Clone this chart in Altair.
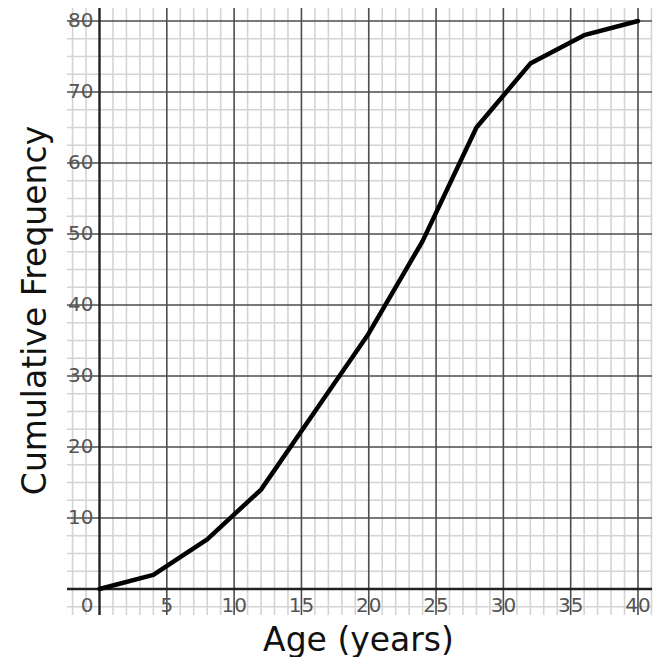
import altair as alt
import pandas as pd

# Data
ages = [0, 4, 8, 12, 16, 20, 24, 28, 32, 36, 40]
cum_freq = [0, 2, 7, 14, 25, 36, 49, 65, 74, 78, 80]

x_label_vals = [5, 10, 15, 20, 25, 30, 35, 40]
y_label_vals = [10, 20, 30, 40, 50, 60, 70, 80]

x_major = [5, 10, 15, 20, 25, 30, 35, 40]
y_major = [10, 20, 30, 40, 50, 60, 70, 80]
x_minor = [v for v in range(-2, 42) if v % 5 != 0]
y_minor = [v * 2.5 for v in range(-1, 33) if v % 4 != 0]

X_DOM = [-2.414, 41.04]
Y_DOM = [-3.66, 81.83]

xs = alt.Scale(domain=X_DOM, nice=False, zero=False)
ys = alt.Scale(domain=Y_DOM, nice=False, zero=False)

ax_x = alt.Axis(
    title="Age (years)", labels=False, ticks=False, domain=False, grid=False,
    titleFont="DejaVu Sans", titleFontSize=33, titleFontWeight="normal", titleColor="#111111",
    titleX=291, titleY=35, titleAlign="center", titleBaseline="alphabetic")
ax_y = alt.Axis(
    title="Cumulative Frequency", labels=False, ticks=False, domain=False, grid=False,
    titleFont="DejaVu Sans", titleFontSize=33, titleFontWeight="normal", titleColor="#111111",
    titleX=-22, titleY=302, titleAngle=270, titleAlign="center", titleBaseline="alphabetic")

curve_df = pd.DataFrame({"age": ages, "cf": cum_freq})


def vrules(vals, color, width):
    return alt.Chart(pd.DataFrame({"v": vals})).mark_rule(
        color=color, strokeWidth=width
    ).encode(x=alt.X("v:Q", scale=xs, axis=ax_x))


def hrules(vals, color, width):
    return alt.Chart(pd.DataFrame({"v": vals})).mark_rule(
        color=color, strokeWidth=width
    ).encode(y=alt.Y("v:Q", scale=ys, axis=ax_y))


minor_x = vrules(x_minor, "#d4d4d4", 1.6)
minor_y = hrules(y_minor, "#d4d4d4", 1.6)
major_x = vrules(x_major, "#4d4d4d", 1.6)
major_y = hrules(y_major, "#4d4d4d", 1.6)
axis_x0 = vrules([0], "#222222", 2.4)
axis_y0 = hrules([0], "#222222", 2.4)

label_font = "DejaVu Sans"

xlab = alt.Chart(pd.DataFrame({"v": x_label_vals, "t": [str(v) for v in x_label_vals], "yy": [-2.4] * len(x_label_vals)})).mark_text(
    font=label_font, fontSize=20, color="#555555", align="center", baseline="middle"
).encode(x=alt.X("v:Q", scale=xs, axis=ax_x), y=alt.Y("yy:Q", scale=ys, axis=ax_y), text="t:N")

zero_lab = alt.Chart(pd.DataFrame({"v": [0], "t": ["0"], "yy": [-2.4]})).mark_text(
    font=label_font, fontSize=20, color="#555555", align="right", baseline="middle", dx=-6
).encode(x=alt.X("v:Q", scale=xs, axis=ax_x), y=alt.Y("yy:Q", scale=ys, axis=ax_y), text="t:N")

ylab = alt.Chart(pd.DataFrame({"v": y_label_vals, "t": [str(v) for v in y_label_vals], "xx": [0] * len(y_label_vals)})).mark_text(
    font=label_font, fontSize=20, color="#555555", align="right", baseline="middle", dx=-6
).encode(x=alt.X("xx:Q", scale=xs, axis=ax_x), y=alt.Y("v:Q", scale=ys, axis=ax_y), text="t:N")

curve = alt.Chart(curve_df).mark_line(
    color="black", strokeWidth=4.5, strokeJoin="round", strokeCap="round"
).encode(
    x=alt.X("age:Q", scale=xs, axis=ax_x),
    y=alt.Y("cf:Q", scale=ys, axis=ax_y),
)

chart = alt.layer(
    minor_x, minor_y, major_x, major_y, axis_x0, axis_y0, xlab, zero_lab, ylab, curve
).properties(
    width=585, height=607,
    autosize=alt.AutoSizeParams(type="none"),
    padding={"left": 59, "top": 0, "right": 2, "bottom": 42},
).configure_view(stroke=None)

chart.save("out.html", embed_options={"renderer": "svg", "actions": False})
